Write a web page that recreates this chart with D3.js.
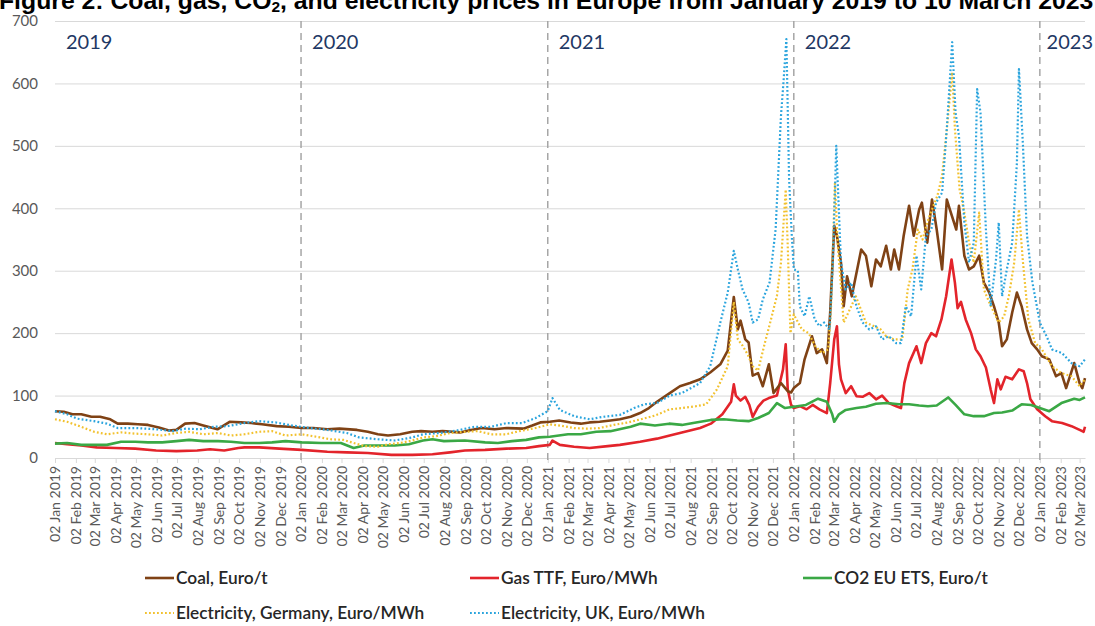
<!DOCTYPE html>
<html><head><meta charset="utf-8">
<script src="https://cdn.jsdelivr.net/npm/d3@7/dist/d3.min.js"></script>
<style>
html,body{margin:0;padding:0;background:#fff;}
svg{display:block;}
</style></head>
<body>
<svg id="chart" width="1095" height="626"></svg>
<script>
// ---------- DATA ----------
const seriesNames = ["Coal, Euro/t","Gas TTF, Euro/MWh","CO2 EU ETS, Euro/t","Electricity, Germany, Euro/MWh","Electricity, UK, Euro/MWh"];
const yTicks = [0,100,200,300,400,500,600,700];
const yearLabels = ["2019","2020","2021","2022","2023"];
const yearStarts = ["2019-01-02","2020-01-02","2021-01-02","2022-01-02","2023-01-02"];

const coal = [
["2019-01-02",75],["2019-01-15",74],["2019-01-28",70],["2019-02-10",70],["2019-02-25",66],["2019-03-10",66],["2019-03-25",62],["2019-04-05",55],["2019-04-20",55],["2019-05-05",54],["2019-05-20",53],["2019-06-05",49],["2019-06-20",44],["2019-07-01",45],["2019-07-14",55],["2019-07-28",56],["2019-08-10",52],["2019-08-31",46],["2019-09-18",58],["2019-10-05",57],["2019-10-20",56],["2019-11-05",54],["2019-11-27",51],["2019-12-15",50],
["2020-01-03",48],["2020-01-20",48],["2020-02-10",46],["2020-02-28",47],["2020-03-25",45],["2020-04-10",42],["2020-04-25",38],["2020-05-10",36],["2020-05-28",38],["2020-06-15",42],["2020-06-28",43],["2020-07-15",42],["2020-07-30",43],["2020-08-25",41],["2020-09-10",45],["2020-09-26",48],["2020-10-15",46],["2020-11-02",48],["2020-11-27",47],["2020-12-10",52],["2020-12-22",57],
["2021-01-05",58],["2021-01-19",60],["2021-02-05",57],["2021-02-20",55],["2021-03-05",57],["2021-03-20",58],["2021-04-05",60],["2021-04-19",62],["2021-05-05",66],["2021-05-19",72],["2021-06-01",80],["2021-06-13",90],["2021-07-02",104],["2021-07-17",115],["2021-08-01",120],["2021-08-16",126],["2021-08-31",137],["2021-09-15",150],["2021-09-26",172],["2021-10-05",258],["2021-10-11",206],["2021-10-15",220],["2021-10-22",190],["2021-10-27",185],["2021-11-02",132],["2021-11-10",136],["2021-11-17",115],["2021-11-26",150],["2021-12-03",104],["2021-12-14",120],["2021-12-24",107],["2021-12-29",105],
["2022-01-02",112],["2022-01-11",120],["2022-01-18",158],["2022-01-29",195],["2022-02-05",168],["2022-02-13",174],["2022-02-20",152],["2022-02-25",233],["2022-03-03",372],["2022-03-07",356],["2022-03-13",313],["2022-03-17",243],["2022-03-22",291],["2022-03-29",259],["2022-04-06",302],["2022-04-12",334],["2022-04-19",324],["2022-04-27",275],["2022-05-04",318],["2022-05-11",307],["2022-05-19",340],["2022-05-26",302],["2022-05-31",334],["2022-06-07",302],["2022-06-14",356],["2022-06-22",404],["2022-06-29",356],["2022-07-07",398],["2022-07-11",409],["2022-07-19",345],["2022-07-26",414],["2022-08-02",366],["2022-08-10",302],["2022-08-17",414],["2022-08-23",393],["2022-08-31",366],["2022-09-04",404],["2022-09-12",324],["2022-09-19",302],["2022-09-26",307],["2022-10-04",324],["2022-10-11",281],["2022-10-19",265],["2022-10-26",243],["2022-11-02",217],["2022-11-07",179],["2022-11-14",190],["2022-11-22",233],["2022-11-29",265],["2022-12-06",243],["2022-12-14",206],["2022-12-21",184],["2022-12-29",174],
["2023-01-05",163],["2023-01-16",158],["2023-01-26",131],["2023-02-03",136],["2023-02-10",112],["2023-02-22",152],["2023-03-02",120],["2023-03-06",112],["2023-03-10",128]
];

const gas = [
["2019-01-02",24],["2019-01-20",22],["2019-02-10",20],["2019-03-05",17],["2019-04-01",16],["2019-05-01",15],["2019-06-01",12],["2019-07-01",11],["2019-08-01",12],["2019-08-20",14],["2019-09-10",12],["2019-10-01",16],["2019-10-10",17],["2019-11-01",17],["2019-12-01",15],
["2020-01-03",13],["2020-02-10",10],["2020-03-10",9],["2020-04-10",8],["2020-05-15",5],["2020-06-15",5],["2020-07-15",6],["2020-08-10",9],["2020-09-01",12],["2020-10-01",13],["2020-11-02",15],["2020-12-01",16],["2020-12-20",19],
["2021-01-05",21],["2021-01-09",28],["2021-01-20",21],["2021-02-10",18],["2021-03-05",16],["2021-04-01",19],["2021-04-19",21],["2021-05-19",26],["2021-06-13",31],["2021-07-02",36],["2021-07-17",40],["2021-08-16",48],["2021-09-01",55],["2021-09-18",70],["2021-10-01",90],["2021-10-05",118],["2021-10-08",100],["2021-10-15",92],["2021-10-22",98],["2021-10-28",85],["2021-11-02",66],["2021-11-10",82],["2021-11-18",92],["2021-11-26",96],["2021-12-08",100],["2021-12-17",142],["2021-12-21",182],["2021-12-24",110],["2021-12-29",85],
["2022-01-02",80],["2022-01-11",83],["2022-01-21",78],["2022-01-30",85],["2022-02-09",78],["2022-02-20",72],["2022-02-25",120],["2022-03-03",190],["2022-03-07",211],["2022-03-10",150],["2022-03-13",126],["2022-03-20",104],["2022-03-28",115],["2022-04-05",99],["2022-04-14",98],["2022-04-24",104],["2022-05-04",94],["2022-05-13",100],["2022-05-23",88],["2022-06-03",83],["2022-06-10",80],["2022-06-15",120],["2022-06-22",152],["2022-07-03",179],["2022-07-10",152],["2022-07-17",184],["2022-07-25",200],["2022-08-01",195],["2022-08-09",222],["2022-08-16",259],["2022-08-24",318],["2022-08-29",281],["2022-09-02",240],["2022-09-07",250],["2022-09-14",222],["2022-09-22",200],["2022-09-29",174],["2022-10-06",163],["2022-10-14",145],["2022-10-21",110],["2022-10-26",88],["2022-10-31",126],["2022-11-05",110],["2022-11-12",130],["2022-11-22",126],["2022-12-02",142],["2022-12-09",139],["2022-12-14",120],["2022-12-19",94],["2022-12-29",78],
["2023-01-10",67],["2023-01-20",59],["2023-02-04",56],["2023-02-18",51],["2023-03-02",45],["2023-03-08",42],["2023-03-10",50]
];

const co2 = [
["2019-01-02",23],["2019-01-20",24],["2019-02-10",21],["2019-03-01",21],["2019-03-20",21],["2019-04-10",26],["2019-05-01",26],["2019-05-20",25],["2019-06-10",25],["2019-07-01",27],["2019-07-20",29],["2019-08-10",27],["2019-09-01",27],["2019-09-20",26],["2019-10-10",24],["2019-11-01",24],["2019-11-20",25],["2019-12-10",27],
["2020-01-03",25],["2020-02-01",24],["2020-03-01",24],["2020-03-20",16],["2020-04-05",20],["2020-05-01",20],["2020-05-20",20],["2020-06-10",22],["2020-07-01",28],["2020-07-15",30],["2020-08-01",27],["2020-09-01",28],["2020-10-01",25],["2020-10-20",24],["2020-11-10",27],["2020-12-01",29],["2020-12-20",33],
["2021-01-05",34],["2021-02-01",38],["2021-02-20",38],["2021-03-15",42],["2021-04-05",43],["2021-05-05",50],["2021-05-19",55],["2021-06-10",52],["2021-07-01",55],["2021-07-20",53],["2021-08-10",57],["2021-09-01",61],["2021-09-20",62],["2021-10-10",60],["2021-10-27",59],["2021-11-10",64],["2021-11-26",72],["2021-12-08",88],["2021-12-20",80],
["2022-01-02",82],["2022-01-20",85],["2022-02-07",95],["2022-02-20",90],["2022-02-28",70],["2022-03-03",58],["2022-03-10",70],["2022-03-20",77],["2022-04-05",80],["2022-04-19",82],["2022-05-04",87],["2022-05-20",88],["2022-06-07",86],["2022-06-22",86],["2022-07-07",84],["2022-07-20",83],["2022-08-02",84],["2022-08-19",97],["2022-08-30",85],["2022-09-12",70],["2022-09-26",67],["2022-10-11",67],["2022-10-26",72],["2022-11-07",73],["2022-11-22",76],["2022-12-06",86],["2022-12-20",85],
["2023-01-02",80],["2023-01-16",75],["2023-02-03",88],["2023-02-22",95],["2023-03-02",93],["2023-03-10",97]
];

const elecDE = [
["2019-01-02",62],["2019-01-20",58],["2019-02-10",50],["2019-03-01",42],["2019-03-20",38],["2019-04-10",41],["2019-05-01",39],["2019-05-20",38],["2019-06-10",36],["2019-07-01",40],["2019-07-20",42],["2019-08-10",38],["2019-09-01",40],["2019-09-20",36],["2019-10-10",38],["2019-11-01",42],["2019-11-20",43],["2019-12-10",36],
["2020-01-03",38],["2020-01-25",34],["2020-02-15",30],["2020-03-05",29],["2020-03-20",24],["2020-04-05",19],["2020-04-25",18],["2020-05-10",22],["2020-05-28",24],["2020-06-15",28],["2020-07-01",33],["2020-07-20",35],["2020-08-10",40],["2020-09-01",42],["2020-09-20",43],["2020-10-10",38],["2020-11-01",38],["2020-11-25",44],["2020-12-15",48],
["2021-01-05",54],["2021-01-20",52],["2021-02-10",48],["2021-03-01",47],["2021-03-20",48],["2021-04-10",53],["2021-05-01",57],["2021-05-20",62],["2021-06-10",68],["2021-07-02",78],["2021-07-20",80],["2021-08-10",83],["2021-08-25",86],["2021-09-10",110],["2021-09-26",147],["2021-10-05",250],["2021-10-11",190],["2021-10-18",180],["2021-10-26",165],["2021-11-02",147],["2021-11-10",140],["2021-11-20",184],["2021-11-28",217],["2021-12-08",260],["2021-12-14",313],["2021-12-21",430],["2021-12-24",340],["2021-12-28",200],
["2022-01-02",230],["2022-01-07",220],["2022-01-14",206],["2022-01-24",200],["2022-02-03",179],["2022-02-13",168],["2022-02-22",174],["2022-02-26",233],["2022-03-04",440],["2022-03-08",345],["2022-03-17",217],["2022-03-24",233],["2022-04-04",259],["2022-04-19",217],["2022-05-01",211],["2022-05-11",206],["2022-05-19",195],["2022-05-31",190],["2022-06-12",190],["2022-06-20",270],["2022-06-27",302],["2022-07-05",366],["2022-07-12",350],["2022-07-19",377],["2022-07-26",398],["2022-08-03",420],["2022-08-10",452],["2022-08-17",527],["2022-08-25",618],["2022-08-29",527],["2022-09-05",430],["2022-09-12",393],["2022-09-19",345],["2022-09-26",313],["2022-10-04",393],["2022-10-11",270],["2022-10-19",249],["2022-10-26",233],["2022-11-02",217],["2022-11-10",227],["2022-11-17",259],["2022-11-25",313],["2022-12-02",398],["2022-12-08",313],["2022-12-16",222],["2022-12-26",184],
["2023-01-05",174],["2023-01-20",147],["2023-02-03",136],["2023-02-18",131],["2023-03-02",115],["2023-03-10",126]
];

const elecUK = [
["2019-01-02",75],["2019-01-20",70],["2019-02-04",63],["2019-03-01",59],["2019-03-20",55],["2019-04-05",48],["2019-05-01",48],["2019-06-01",46],["2019-06-25",43],["2019-07-15",47],["2019-08-05",46],["2019-08-25",50],["2019-09-15",51],["2019-10-10",56],["2019-11-01",59],["2019-11-25",57],["2019-12-20",52],
["2020-01-15",48],["2020-02-10",45],["2020-03-10",40],["2020-03-28",33],["2020-04-25",30],["2020-05-20",28],["2020-06-15",33],["2020-07-01",38],["2020-07-25",40],["2020-08-20",44],["2020-09-15",50],["2020-10-10",50],["2020-11-02",56],["2020-11-25",56],["2020-12-15",64],
["2021-01-02",75],["2021-01-09",96],["2021-01-20",77],["2021-02-10",67],["2021-03-05",62],["2021-03-25",66],["2021-04-19",69],["2021-05-10",80],["2021-05-25",86],["2021-06-13",88],["2021-07-02",100],["2021-07-20",104],["2021-08-16",120],["2021-08-31",147],["2021-09-15",217],["2021-09-26",265],["2021-10-05",332],["2021-10-11",302],["2021-10-18",270],["2021-10-27",249],["2021-11-02",217],["2021-11-10",222],["2021-11-17",254],["2021-11-27",281],["2021-12-06",366],["2021-12-14",548],["2021-12-18",607],["2021-12-22",671],["2021-12-26",447],["2021-12-30",356],
["2022-01-02",302],["2022-01-08",300],["2022-01-11",243],["2022-01-18",227],["2022-01-25",259],["2022-02-02",222],["2022-02-09",211],["2022-02-16",217],["2022-02-24",206],["2022-03-01",313],["2022-03-06",500],["2022-03-13",313],["2022-03-20",270],["2022-03-28",281],["2022-04-05",243],["2022-04-14",217],["2022-04-24",206],["2022-05-04",211],["2022-05-13",190],["2022-05-23",195],["2022-06-03",184],["2022-06-10",184],["2022-06-17",243],["2022-06-25",227],["2022-07-03",324],["2022-07-10",270],["2022-07-17",356],["2022-07-25",366],["2022-08-01",409],["2022-08-10",425],["2022-08-17",527],["2022-08-25",666],["2022-08-30",553],["2022-09-04",516],["2022-09-12",377],["2022-09-19",313],["2022-09-26",345],["2022-10-01",591],["2022-10-06",553],["2022-10-14",366],["2022-10-21",243],["2022-10-29",318],["2022-11-02",377],["2022-11-07",259],["2022-11-14",302],["2022-11-22",345],["2022-11-29",473],["2022-12-02",623],["2022-12-08",500],["2022-12-14",356],["2022-12-22",281],
["2023-01-02",217],["2023-01-12",195],["2023-01-20",174],["2023-02-04",168],["2023-02-18",152],["2023-03-02",147],["2023-03-10",158]
];

// ---------- CHART ----------
const parse = d3.timeParse("%Y-%m-%d");
const svg = d3.select("#chart");
const plotL = 55, plotR = 1085, plotT = 21, plotB = 458;

const x = d3.scaleTime().domain([parse("2019-01-02"), parse("2023-03-10")]).range([plotL, plotR]);
const y = d3.scaleLinear().domain([0, 700]).range([plotB, plotT]);

// title (its top is cut off by the frame, as in the reference)
const title = svg.append("text")
  .attr("x", -1).attr("y", 8.5)
  .attr("font-family", "Liberation Sans, Arial, sans-serif")
  .attr("font-weight", "bold").attr("font-size", 24).attr("fill", "#000");
title.append("tspan").text("Figure 2: Coal, gas, CO");
title.append("tspan").attr("font-size", 15).attr("dy", 3).text("2");
title.append("tspan").attr("dy", -3).text(", and electricity prices in Europe from January 2019 to 10 March 2023");
{
  const w = title.node().getComputedTextLength();
  const target = 1095;
  if (w > 0) title.attr("transform", `translate(-1,0) scale(${target / w},1) translate(1,0)`);
}

// y grid + labels
const yAxis = d3.axisLeft(y).tickValues(yTicks).tickSize(-(plotR - plotL)).tickPadding(17);
const gy = svg.append("g").attr("transform", `translate(${plotL},0)`).call(yAxis);
gy.select(".domain").remove();
gy.selectAll(".tick line").attr("stroke", "#d9d9d9").attr("stroke-width", 1);
gy.selectAll(".tick text").attr("fill", "#595959").attr("font-family", "Lato, sans-serif").attr("font-size", 15);

// x axis
const tickDates = d3.timeMonth.range(new Date(2019, 0, 1), new Date(2023, 3, 1)).map(d => d3.timeDay.offset(d, 1));
const xAxis = d3.axisBottom(x).tickValues(tickDates).tickFormat(d3.timeFormat("%d %b %Y")).tickSize(5).tickSizeOuter(0);
const gx = svg.append("g").attr("transform", `translate(0,${plotB})`).call(xAxis);
gx.select(".domain").attr("stroke", "#d9d9d9");
gx.selectAll(".tick line").attr("stroke", "#d9d9d9");
gx.selectAll(".tick text")
  .attr("fill", "#595959").attr("font-family", "Lato, sans-serif").attr("font-size", 14)
  .attr("transform", "rotate(-90)").attr("text-anchor", "end")
  .attr("x", -8).attr("y", 0).attr("dy", "0.35em");

// year separators + labels
yearStarts.forEach((ds, i) => {
  const xx = x(parse(ds));
  if (i > 0) {
    svg.append("line").attr("x1", xx).attr("x2", xx).attr("y1", plotT).attr("y2", plotB + 4)
      .attr("stroke", "#a6a6a6").attr("stroke-width", 1.5).attr("stroke-dasharray", "7,5");
  }
  const t = svg.append("text").attr("x", xx + 11).attr("y", 49)
    .attr("font-family", "Lato, sans-serif").attr("font-size", 20).attr("fill", "#1f3864")
    .text(yearLabels[i]);
  const tw = t.node().getComputedTextLength();
  if (xx + 11 + tw > 1093) t.attr("x", 1093 - tw);
});

const line = d3.line().x(d => x(parse(d[0]))).y(d => y(d[1]));
const styles = [
  {data: coal, color: "#7f4215", w: 2.6, dash: null},
  {data: gas, color: "#e3242b", w: 2.6, dash: null},
  {data: co2, color: "#3aa845", w: 2.6, dash: null},
  {data: elecDE, color: "#f2c12e", w: 2.2, dash: "1.8,2.2"},
  {data: elecUK, color: "#2aa4dd", w: 2.2, dash: "1.8,2.2"}
];
// draw order: gas, co2, coal, DE, UK
[1, 2, 0, 3, 4].forEach(i => {
  const s = styles[i];
  svg.append("path").datum(s.data).attr("d", line)
    .attr("fill", "none").attr("stroke", s.color).attr("stroke-width", s.w)
    .attr("stroke-linejoin", "round")
    .attr("stroke-dasharray", s.dash);
});

// legend
const legendPos = [[145, 578], [470, 578], [803, 578], [145, 613], [470, 613]];
seriesNames.forEach((name, i) => {
  const [lx, ly] = legendPos[i];
  const s = styles[i];
  svg.append("line").attr("x1", lx).attr("x2", lx + 29).attr("y1", ly).attr("y2", ly)
    .attr("stroke", s.color).attr("stroke-width", s.dash ? 2 : 2.6).attr("stroke-dasharray", s.dash);
  svg.append("text").attr("x", lx + 31).attr("y", ly).attr("dy", "0.35em")
    .attr("font-family", "Lato, sans-serif").attr("font-size", 17.3).attr("fill", "#262626")
    .attr("font-weight", 600)
    .text(name);
});
</script>
</body></html>
